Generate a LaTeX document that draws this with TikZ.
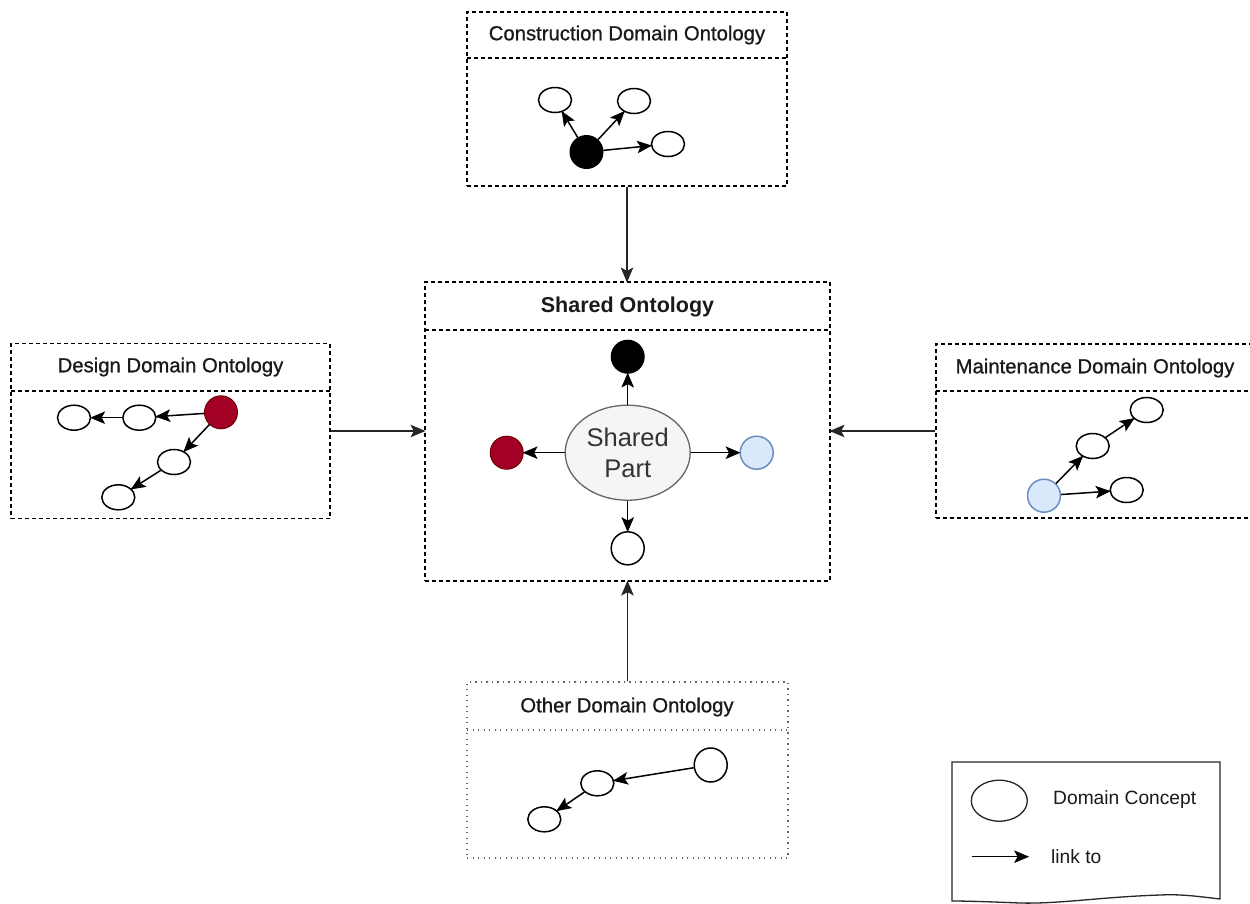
\documentclass[tikz,border=0pt]{standalone}
\usepackage{fontspec}
\setmainfont{Liberation Sans}
\newfontfamily\titlefont[FakeBold=0.9]{Liberation Sans}
\usetikzlibrary{arrows.meta,shapes.geometric}

\definecolor{redfill}{HTML}{A20025}
\definecolor{redline}{HTML}{6F0000}
\definecolor{bluefill}{HTML}{DAE8FC}
\definecolor{blueline}{HTML}{6C8EBF}
\definecolor{sharedfill}{HTML}{F5F5F5}
\definecolor{sharedline}{HTML}{666666}
\definecolor{sharedtext}{HTML}{333333}
\definecolor{titletext}{HTML}{1A1A1A}

% Block arrow head in the style of a classic diagram editor
\pgfarrowsdeclare{blockhead}{blockhead}
{\pgfarrowsleftextend{-13pt}\pgfarrowsrightextend{0pt}}
{
  \pgfsetdash{}{0pt}
  \pgfsetlinewidth{0.8pt}
  \pgfpathmoveto{\pgfpoint{0pt}{0pt}}
  \pgfpathlineto{\pgfpoint{-13pt}{5.5pt}}
  \pgfpathlineto{\pgfpoint{-10pt}{0pt}}
  \pgfpathlineto{\pgfpoint{-13pt}{-5.5pt}}
  \pgfpathclose
  \pgfusepathqfillstroke
}

\tikzset{
  domainbox/.style={draw=black, line width=1.3pt, dash pattern=on 4pt off 3pt, rectangle, inner sep=0pt},
  otherbox/.style={draw=black!60, line width=1.5pt, dash pattern=on 1.3pt off 4.2pt, rectangle, inner sep=0pt},
  divider/.style={draw=black, line width=1.3pt, dash pattern=on 4pt off 3pt},
  otherdivider/.style={draw=black!60, line width=1.5pt, dash pattern=on 1.3pt off 4.2pt},
  boxtitle/.style={font=\titlefont\fontsize{20.3}{24}\selectfont, text=titletext, inner sep=0pt},
  concept/.style={ellipse, draw=black, line width=1.5pt, fill=white, minimum width=33pt, minimum height=25pt, inner sep=0pt},
  roundconcept/.style={circle, draw=black, line width=1.5pt, fill=white, minimum size=33pt, inner sep=0pt},
  blackdot/.style={circle, draw=black, fill=black, line width=1pt, minimum size=33pt, inner sep=0pt},
  reddot/.style={circle, draw=redline, fill=redfill, line width=1pt, minimum size=33pt, inner sep=0pt},
  bluedot/.style={circle, draw=blueline, fill=bluefill, line width=1.5pt, minimum size=33pt, inner sep=0pt},
  link/.style={-blockhead, line width=1.5pt, draw=black, fill=black},
  boxlink/.style={-blockhead, line width=1.5pt, draw=black!85, fill=black!85},
}

\begin{document}
\begin{tikzpicture}[x=1pt,y=-1pt]
\useasboundingbox (0,0) rectangle (1250,903);

% ---------- Construction domain ----------
\node[domainbox, minimum width=320pt, minimum height=174pt] (cons) at (627,99) {};
\coordinate (consdl) at (467,58);
\coordinate (consdr) at (787,58);
\draw[divider] (consdl) -- (consdr);
\node[boxtitle] (constitle) at (627,35) {Construction Domain Ontology};
\node[blackdot] (c0) at (586.5,152) {};
\node[concept] (c1) at (555,100) {};
\node[concept] (c2) at (634,101) {};
\node[concept] (c3) at (668,144) {};
\draw[link] (c0) -- (c1);
\draw[link] (c0) -- (c2);
\draw[link] (c0) -- (c3);

% ---------- Shared ontology ----------
\node[domainbox, minimum width=405pt, minimum height=299pt] (shared) at (627.5,431.5) {};
\coordinate (shdl) at (425,330);
\coordinate (shdr) at (830,330);
\draw[divider] (shdl) -- (shdr);
\node[font=\bfseries\fontsize{21.5}{25}\selectfont, text=titletext, inner sep=0pt] (shtitle) at (627.5,307) {Shared Ontology};
\node[ellipse, draw=sharedline, fill=sharedfill, line width=1.3pt, minimum width=125pt, minimum height=95pt, inner sep=0pt,
      align=center, text=sharedtext, font=\fontsize{25.5}{31}\selectfont] (sp) at (627.7,452.7) {Shared\\Part};
\node[blackdot] (s1) at (627.7,356.7) {};
\node[reddot] (s2) at (506.7,452.7) {};
\node[bluedot] (s3) at (756.7,452.7) {};
\node[roundconcept] (s4) at (627.7,548.3) {};
\draw[link] (sp) -- (s1);
\draw[link] (sp) -- (s2);
\draw[link] (sp) -- (s3);
\draw[link] (sp) -- (s4);

% ---------- Design domain ----------
\node[domainbox, minimum width=319pt, minimum height=175pt] (design) at (170.5,431) {};
\coordinate (dedl) at (11,391);
\coordinate (dedr) at (330,391);
\draw[divider] (dedl) -- (dedr);
\node[boxtitle] (detitle) at (170.5,367) {Design Domain Ontology};
\node[reddot] (d0) at (221,412.3) {};
\node[concept] (d1) at (139.3,417.7) {};
\node[concept] (d2) at (74,417.7) {};
\node[concept] (d3) at (174,462) {};
\node[concept] (d4) at (118.3,497.3) {};
\draw[link] (d0) -- (d1);
\draw[link] (d1) -- (d2);
\draw[link] (d0) -- (d3);
\draw[link] (d3) -- (d4);

% ---------- Maintenance domain ----------
\node[domainbox, minimum width=320pt, minimum height=174pt] (maint) at (1096,431) {};
\coordinate (madl) at (936,391);
\coordinate (madr) at (1256,391);
\draw[divider] (madl) -- (madr);
\node[boxtitle] (matitle) at (1095,368) {Maintenance Domain Ontology};
\node[bluedot] (m0) at (1044,495.7) {};
\node[concept] (m1) at (1092.7,446) {};
\node[concept] (m2) at (1146.7,410) {};
\node[concept] (m3) at (1126.7,490) {};
\draw[link] (m0) -- (m1);
\draw[link] (m1) -- (m2);
\draw[link] (m0) -- (m3);

% ---------- Other domain ----------
\node[otherbox, minimum width=321pt, minimum height=176pt] (other) at (627.5,770) {};
\coordinate (otdl) at (467,730);
\coordinate (otdr) at (788,730);
\draw[otherdivider] (otdl) -- (otdr);
\node[boxtitle] (ottitle) at (627,707) {Other Domain Ontology};
\node[ellipse, draw=black, line width=1.5pt, fill=white, minimum width=33pt, minimum height=34pt, inner sep=0pt] (o0) at (710.7,765) {};
\node[concept] (o1) at (597.3,783.3) {};
\node[concept] (o2) at (544.3,819.3) {};
\draw[link] (o0) -- (o1);
\draw[link] (o1) -- (o2);

% ---------- Links between ontologies ----------
\draw[boxlink] (cons.south) -- (cons.south |- shared.north);
\draw[boxlink] (other.north) -- (other.north |- shared.south);
\draw[boxlink] (design.east) -- (design.east -| shared.west);
\draw[boxlink] (maint.west) -- (maint.west -| shared.east);

% ---------- Legend ----------
\draw[line width=1.3pt, draw=black!85, fill=white]
  (952,762) -- (1220,762) -- (1220,899)
  .. controls (1195,896) and (1180,894) .. (1160,895)
  .. controls (1100,897) and (1060,904) .. (1020,903)
  .. controls (995,902) and (970,901) .. (952,901) -- cycle;
\node[ellipse, draw=black!85, line width=1.3pt, minimum width=56pt, minimum height=41pt, inner sep=0pt] (lgc) at (999.3,800.7) {};
\node[anchor=west, inner sep=0pt, font=\fontsize{19.2}{23}\selectfont, text=titletext] (lgct) at (1053,800) {Domain Concept};
\coordinate (lga) at (971.7,856.7);
\coordinate (lgb) at (1028,856.7);
\draw[link, line width=1.2pt] (lga) -- (lgb);
\node[anchor=west, inner sep=0pt, font=\fontsize{19.2}{23}\selectfont, text=titletext] (lglt) at (1051,857) {link to};
\end{tikzpicture}
\end{document}
